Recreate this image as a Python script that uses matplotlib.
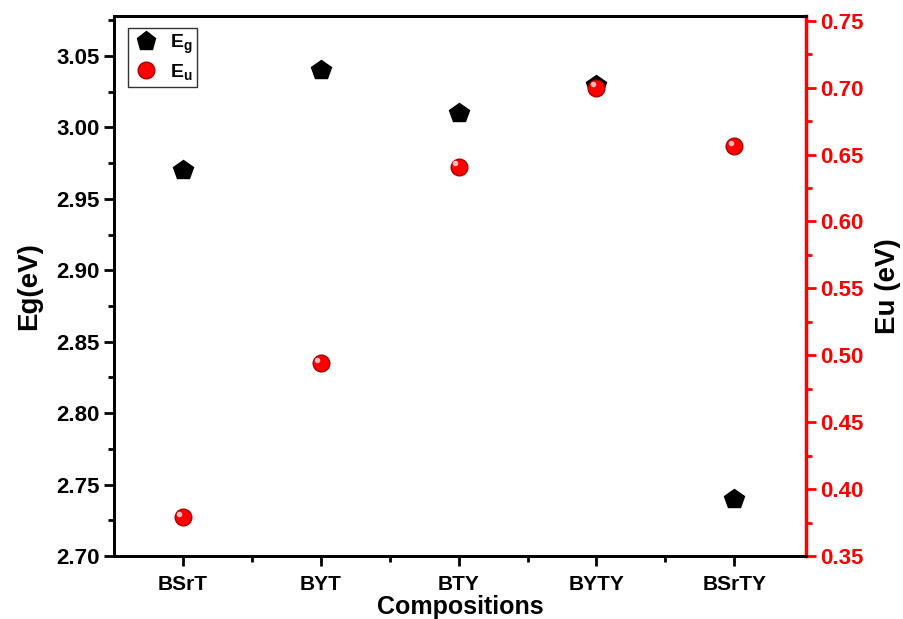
import matplotlib.pyplot as plt
import matplotlib.transforms as mtrans
from matplotlib.lines import Line2D

plt.rcParams['font.family'] = ['Liberation Sans', 'DejaVu Sans']
plt.rcParams['font.weight'] = 'bold'
plt.rcParams['mathtext.fontset'] = 'custom'
plt.rcParams['mathtext.bf'] = 'Liberation Sans:bold'
plt.rcParams['mathtext.rm'] = 'Liberation Sans:bold'

comps = ['BSrT', 'BYT', 'BTY', 'BYTY', 'BSrTY']
eg = [2.97, 3.04, 3.01, 3.03, 2.74]
eu = [0.379, 0.494, 0.641, 0.700, 0.656]
xpos = [1, 2, 3, 4, 5]

fig = plt.figure(figsize=(9.04, 6.19), dpi=100)
ax = fig.add_axes([114/904, 1-556/619, (806-114)/904, (556-16)/619])
ax2 = ax.twinx()

ax.plot(xpos, eg, 'p', color='black', markersize=15, linestyle='none')
ax2.plot(xpos, eu, 'o', color='red', markeredgecolor='#b00000', markersize=12, linestyle='none')
# little highlight so the red points look like spheres
hl = mtrans.offset_copy(ax2.transData, fig=fig, x=-2.5, y=2.5, units='points')
ax2.plot(xpos, eu, 'o', color='#ffd0d0', markeredgewidth=0, markersize=4, alpha=0.9, transform=hl)

ax.set_xlim(0.5, 5.52)
ax.set_ylim(2.70, 3.078)
ax2.set_ylim(0.35, 0.7535)
ax.set_xticks(xpos)
ax.set_xticklabels(comps)
ax.set_xticks([1.5, 2.5, 3.5, 4.5], minor=True)
ax.set_yticks([2.70, 2.75, 2.80, 2.85, 2.90, 2.95, 3.00, 3.05])
ax.set_yticks([2.725, 2.775, 2.825, 2.875, 2.925, 2.975, 3.025, 3.075], minor=True)
ax2.set_yticks([0.35, 0.40, 0.45, 0.50, 0.55, 0.60, 0.65, 0.70, 0.75])
ax2.set_yticks([0.375, 0.425, 0.475, 0.525, 0.575, 0.625, 0.675, 0.725], minor=True)

ax.tick_params(axis='both', which='major', direction='out', length=7, width=2, labelsize=16)
ax.tick_params(axis='x', which='major', pad=7, labelsize=15)
ax.tick_params(axis='both', which='minor', direction='out', length=4, width=2)
ax2.tick_params(axis='y', which='major', direction='out', length=7, width=2, labelsize=16,
                colors='red')
ax2.tick_params(axis='y', which='minor', direction='out', length=4, width=2, colors='red')
for t in ax.get_xticklabels() + ax.get_yticklabels() + ax2.get_yticklabels():
    t.set_fontweight('bold')

for s in ['left', 'bottom', 'top']:
    ax.spines[s].set_linewidth(2)
ax2.spines['right'].set_color('red')
ax2.spines['right'].set_linewidth(2.5)
for s in ['left', 'bottom', 'top']:
    ax2.spines[s].set_linewidth(2)

ax.set_xlabel('Compositions', fontsize=18, fontweight='bold')
ax.xaxis.set_label_coords(0.5, (556 - 607) / 540)
ax.xaxis.label.set_va('center')
ax.set_ylabel('Eg(eV)', fontsize=20, fontweight='bold', labelpad=10)
ax2.set_ylabel('Eu (eV)', fontsize=20, fontweight='bold', labelpad=8)

handles = [Line2D([], [], marker='p', color='black', linestyle='none', markersize=14),
           Line2D([], [], marker='o', color='red', markeredgecolor='#b00000',
                  linestyle='none', markersize=12)]
leg = ax2.legend(handles, [r'$\mathbf{E_g}$', r'$\mathbf{E_u}$'], loc='upper left',
                 bbox_to_anchor=(14/692, 1-12/540), borderaxespad=0, fancybox=False,
                 edgecolor='black', fontsize=14, handletextpad=0.5, borderpad=0.25,
                 labelspacing=0.3, handlelength=1.4)
leg.get_frame().set_linewidth(1)

fig.savefig('out.png', dpi=100)
